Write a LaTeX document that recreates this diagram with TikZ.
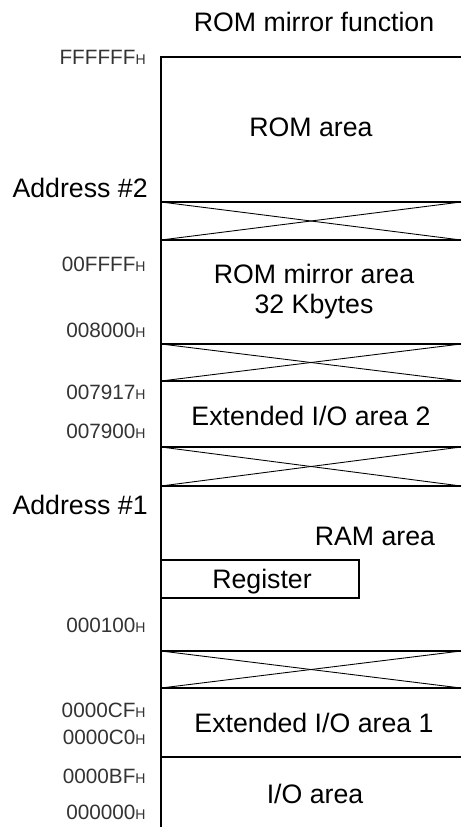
\documentclass[tikz,border=0pt]{standalone}
\usepackage{fontspec}
\setmainfont{Liberation Sans}
\usetikzlibrary{positioning,calc}
\tikzset{>=stealth}
\newcommand*{\adr}[1]{#1{\fontsize{8}{9}\selectfont H}}

\begin{document}
\begin{tikzpicture}[x=0.02cm,y=-0.02cm,
  area/.style={font=\fontsize{15.2}{18}\selectfont,anchor=base},
  addr/.style={font=\fontsize{11.8}{13}\selectfont,text=black!80,anchor=base east,inner sep=0pt},
  mark2/.style={font=\fontsize{15.2}{18}\selectfont,anchor=base east,inner sep=0pt},
  border/.style={line width=1.1pt},
  cross/.style={line width=0.5pt}]
\useasboundingbox (0,0) rectangle (461,827);
\coordinate (T) at (161,57);
\coordinate (TR) at (461,57);
\coordinate (B) at (161,827);
\draw[border] (TR) -- (T) -- (B);
% omitted ranges
\foreach \a/\b in {202/240,344/381,447/486,651/688} {
  \draw[cross] (161,\a) -- (461,\b);
  \draw[cross] (161,\b) -- (461,\a);
  \draw[border] (161,\a) -- (461,\a);
  \draw[border] (161,\b) -- (461,\b);
}
\draw[border] (161,757) -- (461,757);
% register block
\draw[line width=0.8pt] (161,560) rectangle (359,598);
\node[area] (reg) at (262,588) {Register};

\node[area] (title) at (314,32) {ROM mirror function};
\node[area] (rom) at (311,137) {ROM area};
\node[area] (mirror) at (314,283) {ROM mirror area};
\node[area] (kb) at (314,313) {32 Kbytes};
\node[area] (eio2) at (311,425) {Extended I/O area 2};
\node[area] (ram) at (375,545) {RAM area};
\node[area] (eio1) at (314,732) {Extended I/O area 1};
\node[area] (io) at (315,803) {I/O area};

\node[mark2] (a2) at (148,198) {Address \#2};
\node[mark2] (a1) at (148,514) {Address \#1};

\node[addr] (fff) at (146,65) {\adr{FFFFFF}};
\node[addr] (ffff) at (146,272) {\adr{00FFFF}};
\node[addr] (m8000) at (146,337) {\adr{008000}};
\node[addr] (m7917) at (146,399) {\adr{007917}};
\node[addr] (m7900) at (146,438) {\adr{007900}};
\node[addr] (m100) at (146,632) {\adr{000100}};
\node[addr] (mcf) at (146,717) {\adr{0000CF}};
\node[addr] (mc0) at (146,744) {\adr{0000C0}};
\node[addr] (mbf) at (146,783) {\adr{0000BF}};
\node[addr] (m0) at (146,819) {\adr{000000}};
\end{tikzpicture}
\end{document}
